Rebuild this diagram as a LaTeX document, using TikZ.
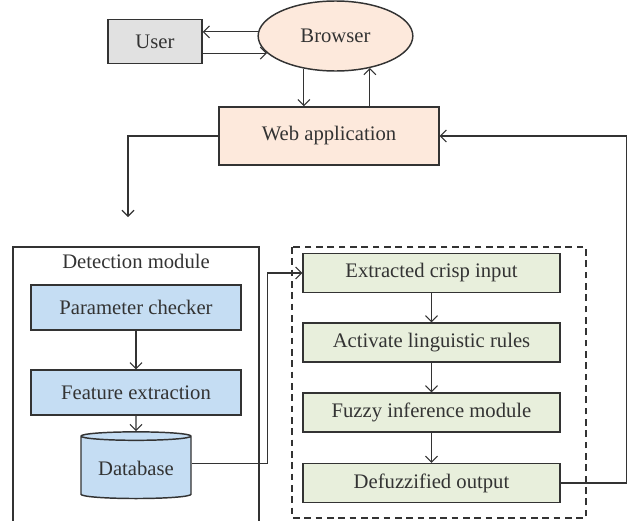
\documentclass[tikz,border=0pt]{standalone}
\usepackage{fontspec}
\setmainfont{Liberation Serif}
\usetikzlibrary{shapes,arrows.meta}
\definecolor{usergray}{HTML}{E1E1E1}
\definecolor{webpeach}{HTML}{FDE9DC}
\definecolor{detblue}{HTML}{C5DDF3}
\definecolor{fuzzgreen}{HTML}{E8EFDC}
\definecolor{edgegray}{HTML}{333333}
\tikzset{
  vertex/.style={
    rectangle,
    draw=edgegray, line width=1.1pt,
    text centered
  },
  detect/.style={vertex, fill=detblue, minimum width=157.5pt, minimum height=33.75pt},
  fuzzy/.style={vertex, fill=fuzzgreen, minimum width=192.75pt, minimum height=29.25pt},
}

\begin{document}
\begin{tikzpicture}[x=0.75pt,y=-0.75pt,font=\fontsize{15.5}{18}\selectfont,
    color=edgegray,line width=0.8pt,>={Straight Barb[length=4.5pt,width=9pt]}]
      \useasboundingbox (0,0) rectangle (629,521);

      \node[vertex, fill=usergray, minimum width=70.5pt, minimum height=33pt] (user) at (155,41.5) {User};
      \node[ellipse, draw=edgegray, line width=1.1pt, fill=webpeach,
        minimum width=116pt, minimum height=52.5pt] (browser) at (335.5,36) {Browser};
      \node[vertex, fill=webpeach, minimum width=165pt, minimum height=43.5pt] (web) at (329,136) {Web application};
      \coordinate (detin) at (128,217);

      \begin{scope}
        \draw[line width=1.1pt] (13,521) |- (259,247) -- (259,521);
        \node (dettitle) at (136,261) {Detection module};
        \node[detect] (param) at (136,307.5) {Parameter checker};
        \node[detect] (feature) at (136,392.5) {Feature extraction};
        \node[cylinder, shape border rotate=90, aspect=0.1, draw=edgegray, line width=1.1pt,
          fill=detblue, minimum width=82.5pt, minimum height=50pt] (db) at (136,468.5) {Database};
        \path[->] (param) edge (feature)
        (feature) edge (db);
      \end{scope}

      \begin{scope}
        \draw[dashed, dash pattern=on 5pt off 3.5pt, line width=0.9pt] (292,247) rectangle (586,518);
        \node[fuzzy] (crisp) at (431.5,273) {Extracted crisp input};
        \node[fuzzy] (rules) at (431.5,342.5) {Activate linguistic rules};
        \node[fuzzy] (infer) at (431.5,412.5) {Fuzzy inference module};
        \node[fuzzy] (defuzz) at (431.5,483) {Defuzzified output};
        \path[->] (crisp) edge (rules)
        (rules) edge (infer)
        (infer) edge (defuzz);
      \end{scope}

      \draw[->] (browser.177) -- (browser.177 -| user.east);
      \draw[->] (browser.194 -| user.east) -- (browser.194);
      \draw[->] (browser.226) -- (browser.226 |- web.north);
      \draw[->] (browser.-43 |- web.north) -- (browser.-43);
      \draw[->] (web.west) -| (detin);
      \draw[->] ([yshift=4pt]db.east) -- ++(57pt,0) |- (crisp.west);
      \draw[->] (defuzz.east) -- ++(49.5pt,0) |- (web.east);
    \end{tikzpicture}
\end{document}
